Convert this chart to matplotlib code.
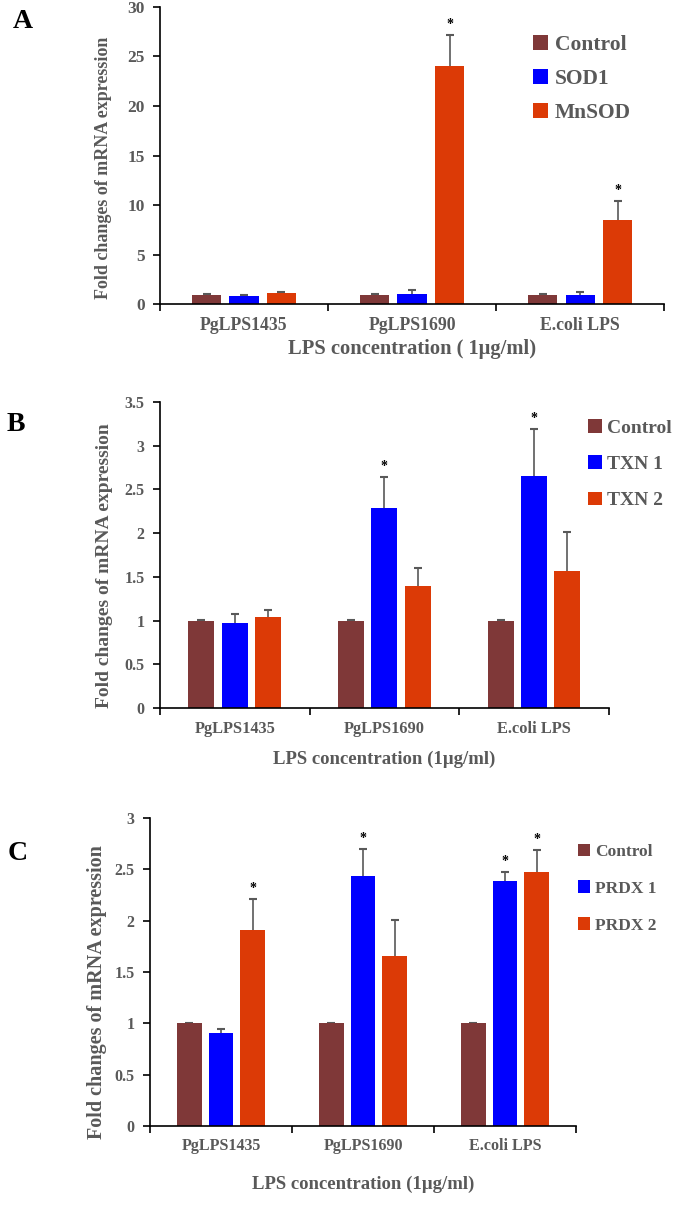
import matplotlib
matplotlib.use('Agg')
import matplotlib.pyplot as plt
import numpy as np

plt.rcParams['font.family'] = 'Liberation Serif'
plt.rcParams['font.weight'] = 'bold'
plt.rcParams['axes.labelweight'] = 'bold'

groups = ['PgLPS1435', 'PgLPS1690', 'E.coli LPS']
colors = ['#7F3838', '#0000FF', '#DC3A06']
gray = '#595959'

# panel A
a_names = ['Control', 'SOD1', 'MnSOD']
a_vals = [[0.95, 0.95, 0.95], [0.85, 1.05, 0.9], [1.1, 24.05, 8.5]]
a_err = [[0.05, 0.05, 0.05], [0.05, 0.35, 0.3], [0.15, 3.1, 1.9]]
a_star = [[False, False, False], [False, False, False], [False, True, True]]

# panel B
b_names = ['Control', 'TXN 1', 'TXN 2']
b_vals = [[1.0, 1.0, 1.0], [0.97, 2.29, 2.65], [1.04, 1.40, 1.57]]
b_err = [[0.005, 0.005, 0.005], [0.1, 0.35, 0.54], [0.08, 0.2, 0.44]]
b_star = [[False, False, False], [False, True, True], [False, False, False]]

# panel C
c_names = ['Control', 'PRDX 1', 'PRDX 2']
c_vals = [[1.0, 1.0, 1.0], [0.91, 2.43, 2.39], [1.91, 1.66, 2.47]]
c_err = [[0.005, 0.005, 0.005], [0.03, 0.27, 0.08], [0.3, 0.35, 0.22]]
c_star = [[False, False, False], [False, True, True], [True, False, True]]

fig = plt.figure(figsize=(6.75, 12.05), dpi=100)


def panel(rect, names, vals, err, star, ymax, ystep, xlab, lpos, lsize, lspace,
          ylab_xy, ylab_size, xlab_size, xlab_pad, xt_size, yt_size):
    ax = fig.add_axes(rect)
    x = np.arange(3) + 0.5
    for i in range(3):
        xi = x + (i - 1) * 0.223
        top = np.array(vals[i]) + np.array(err[i])
        ax.bar(xi, vals[i], 0.174, color=colors[i], label=names[i], zorder=2)
        ax.errorbar(xi, vals[i], yerr=[[0] * 3, err[i]], fmt='none', ecolor=gray,
                    elinewidth=1.2, capsize=0, zorder=1)
        ax.plot(xi, top, '_', color=gray, ms=6, mew=1.5, zorder=1)
        for j in range(3):
            if star[i][j]:
                ax.annotate('*', (xi[j], top[j]), xytext=(0, 3), textcoords='offset points',
                            ha='center', va='bottom', fontsize=10, color='black')
    ax.set_xlim(0, 3)
    ax.set_ylim(0, ymax)
    yt = np.arange(0, ymax + 0.001, ystep)
    ax.set_yticks(yt)
    ax.set_yticklabels(['%g' % v for v in yt])
    ax.set_xticks([0, 1, 2, 3])
    ax.set_xticklabels([])
    ax.set_xticks(x, minor=True)
    ax.set_xticklabels(groups, minor=True)
    ax.tick_params(axis='x', which='minor', length=0, pad=9, labelsize=xt_size, labelcolor=gray)
    ax.tick_params(axis='x', which='major', length=5, width=1.2)
    ax.tick_params(axis='y', length=5, width=1.2, pad=6, labelsize=yt_size, labelcolor=gray)
    for s in ['top', 'right']:
        ax.spines[s].set_visible(False)
    for s in ['left', 'bottom']:
        ax.spines[s].set_linewidth(1.2)
    ax.set_ylabel('Fold changes of mRNA expression', fontsize=ylab_size, color=gray)
    ax.yaxis.set_label_coords(*ylab_xy)
    ax.set_xlabel(xlab, fontsize=xlab_size, color=gray, labelpad=xlab_pad)
    ax.legend(loc='upper left', bbox_to_anchor=lpos, bbox_transform=fig.transFigure,
              frameon=False, fontsize=lsize, handlelength=0.7, handleheight=0.7,
              handletextpad=0.3, labelspacing=lspace, borderpad=0, borderaxespad=0,
              labelcolor=gray)
    return ax


panel([0.237, 0.7477, 0.747, 0.2465], a_names, a_vals, a_err, a_star, 30, 5,
      'LPS concentration ( 1\u00b5g/ml)', (0.79, 0.971), 15.5, 0.65,
      (-0.095, 0.46), 13, 14.8, 4, 12.8, 12.5)
panel([0.237, 0.4124, 0.665, 0.254], b_names, b_vals, b_err, b_star, 3.5, 0.5,
      'LPS concentration (1\u00b5g/ml)', (0.871, 0.6523), 14, 0.96,
      (-0.105, 0.464), 14, 13.5, 10, 11.8, 11.5)
panel([0.2222, 0.0656, 0.6311, 0.2556], c_names, c_vals, c_err, c_star, 3, 0.5,
      'LPS concentration (1\u00b5g/ml)', (0.856, 0.300), 12.5, 1.2,
      (-0.101, 0.435), 14.5, 13.5, 15.5, 11.5, 11.5)

fig.text(0.034, 1 - 22 / 1205, 'A', fontsize=20, ha='center', va='center', color='black')
fig.text(0.024, 1 - 424 / 1205, 'B', fontsize=20, ha='center', va='center', color='black')
fig.text(0.026, 1 - 853 / 1205, 'C', fontsize=20, ha='center', va='center', color='black')

fig.savefig('out.png', dpi=100)
